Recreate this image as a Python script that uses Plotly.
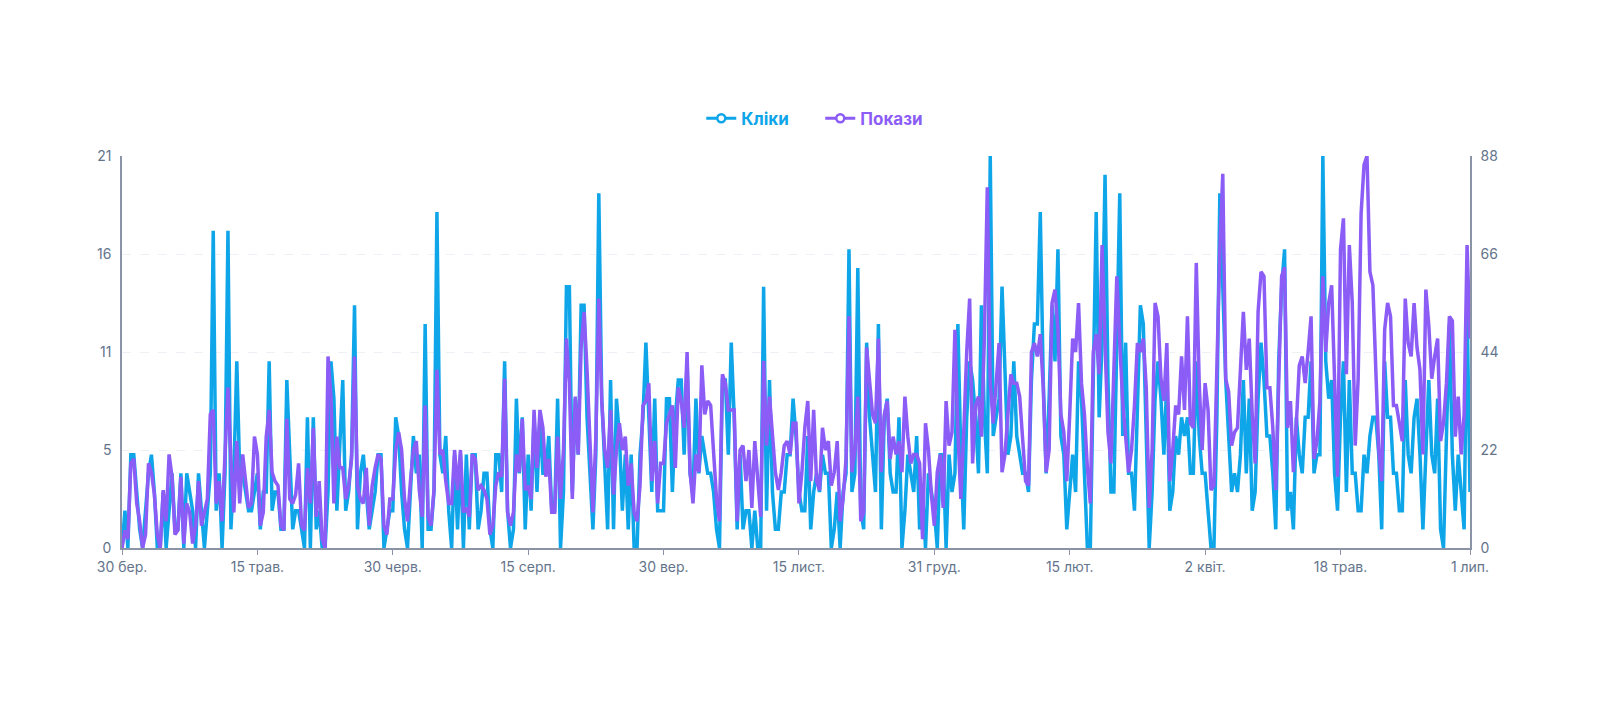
import pandas as pd
import plotly.graph_objects as go

start_date = "2024-03-30"
end_date = "2025-07-01"

clicks = [
    0,2,0,5,5,3,1,0,2,4, 5,3,0,0,3,0,2,4,1,1, 4,0,4,3,2,0,4,2,0,2,
    4,17,2,4,0,4,17,1,4,10, 4,4,3,2,2,3,4,1,3,3, 10,2,3,3,1,1,9,5,1,2,
    2,1,0,7,0,7,1,2,0,0, 3,10,8,2,6,9,2,3,5,13, 1,4,5,3,1,2,3,5,5,0,
    1,2,2,7,6,3,1,0,3,6, 4,5,0,12,1,1,3,18,5,4, 6,2,0,5,1,5,0,5,1,5,
    5,1,2,4,4,1,0,5,5,3, 10,2,0,1,8,4,7,1,5,2, 7,3,7,4,4,6,2,2,8,0,
    3,14,14,3,8,5,13,13,7,4, 1,5,19,8,4,1,9,1,8,6, 2,5,1,5,0,0,5,7,11,7,
    3,8,2,2,2,8,8,3,7,9, 9,5,10,4,3,8,4,6,5,4, 4,3,1,0,9,9,5,11,7,1,
    5,1,2,2,0,2,0,0,14,2, 9,3,1,1,3,3,5,5,8,6, 3,2,2,6,1,3,4,3,5,4,
    4,0,1,3,0,3,4,16,3,4, 15,2,1,11,7,5,3,12,1,7, 8,4,3,3,7,0,2,5,4,3,
    6,1,3,0,4,3,2,0,5,5, 0,5,3,4,12,5,1,7,10,9, 7,4,13,7,4,21,6,7,8,14,
    9,5,6,10,6,5,4,4,3,9, 12,12,18,9,4,8,13,10,16,6, 5,1,3,5,3,10,8,4,0,0,
    10,18,7,11,20,9,3,3,11,19, 6,11,4,4,2,8,13,12,6,0, 3,8,10,8,5,9,2,3,6,5,
    7,6,7,4,4,10,6,4,4,2, 0,0,7,19,14,9,6,3,4,3, 5,9,4,8,2,3,8,11,9,6,
    6,4,1,10,14,16,2,3,1,7, 5,4,7,7,10,4,5,5,21,10, 8,9,4,2,7,10,3,9,4,4,
    2,2,5,4,6,7,7,5,1,10, 7,7,4,4,2,2,9,5,4,7, 8,5,1,5,9,5,4,8,1,0,
    6,12,5,2,5,3,1,13,3,
]

impressions = [
    0,4,2,19,20,10,6,0,3,19, 17,12,3,0,13,6,21,16,3,4, 16,1,10,8,1,5,15,5,8,11,
    30,31,10,15,6,20,36,20,8,24, 10,21,14,9,10,25,21,5,8,25, 31,17,15,14,5,4,29,11,10,12,
    19,5,4,18,10,27,7,15,2,0, 43,34,10,25,18,18,11,14,20,43, 14,11,10,18,5,14,18,21,20,5,
    3,11,11,22,26,22,11,6,15,22, 24,13,7,32,7,5,13,40,21,22, 15,10,10,22,13,22,8,9,7,21,
    20,13,14,13,11,3,5,14,17,16, 38,8,5,8,21,17,29,13,14,11, 31,18,31,27,16,20,8,8,25,11,
    22,47,37,11,34,21,45,53,40,22, 8,25,56,33,22,18,31,12,22,28, 22,25,14,19,8,6,14,32,33,37,
    15,24,10,19,19,28,30,32,18,36, 33,27,44,17,10,21,17,41,30,33, 32,21,11,6,39,37,31,31,31,6,
    22,23,15,22,9,24,14,7,42,23, 34,26,17,13,17,23,24,21,28,28, 10,17,27,33,15,31,15,13,27,22,
    24,14,17,24,6,11,20,52,17,22, 34,6,8,45,37,30,28,47,17,30, 33,20,25,21,24,17,34,25,19,21,
    21,19,2,28,22,12,5,17,21,9, 33,23,26,49,26,11,26,44,56,19, 32,34,25,47,81,37,28,37,46,17,
    21,30,39,37,37,34,25,15,14,44, 46,43,48,36,17,22,55,58,49,30, 26,15,30,47,44,55,37,30,18,10,
    44,48,39,68,46,26,19,41,61,46, 33,25,17,22,32,46,44,47,36,9, 22,55,52,38,33,46,15,22,32,30,
    43,31,52,28,27,64,37,22,37,31, 13,14,44,67,84,38,35,23,26,27, 40,53,40,47,30,19,53,62,61,36,
    36,27,13,40,61,63,27,33,17,28, 41,43,37,44,52,20,24,33,61,44, 55,59,36,16,67,74,39,68,55,23,
    38,75,86,88,62,59,40,22,15,49, 55,52,32,32,28,24,56,46,43,55, 45,40,21,58,50,38,43,47,24,28,
    37,52,51,25,34,21,30,68,47,
]

tick_dates = ["2024-03-30", "2024-05-15", "2024-06-30", "2024-08-15", "2024-09-30",
              "2024-11-15", "2024-12-31", "2025-02-15", "2025-04-02", "2025-05-18", "2025-07-01"]
tick_labels = ["30 бер.", "15 трав.", "30 черв.", "15 серп.", "30 вер.", "15 лист.",
               "31 груд.", "15 лют.", "2 квіт.", "18 трав.", "1 лип."]

left_ticks = [0, 5.25, 10.5, 15.75, 21]
left_labels = ["0", "5", "11", "16", "21"]
right_ticks = [0, 22, 44, 66, 88]

dates = pd.date_range(start_date, periods=len(clicks), freq="D")

BLUE = "#0ea5e9"
PURPLE = "#8b5cf6"
AXIS = "#8a94a6"
TICK = "#64748b"
GRID = "#edf0f4"

fig = go.Figure()
fig.add_trace(go.Scatter(x=dates, y=clicks, mode="lines", line=dict(color=BLUE, width=3.5),
                         showlegend=False, yaxis="y"))
fig.add_trace(go.Scatter(x=dates, y=impressions, mode="lines", line=dict(color=PURPLE, width=3.5),
                         showlegend=False, yaxis="y2"))
# legend entries
fig.add_trace(go.Scatter(x=[None], y=[None], mode="lines+markers",
                         name="<b><span style='color:%s'>Кліки</span></b>" % BLUE,
                         line=dict(color=BLUE, width=3),
                         marker=dict(symbol="circle", size=8, color="white", line=dict(color=BLUE, width=2.5))))
fig.add_trace(go.Scatter(x=[None], y=[None], mode="lines+markers",
                         name="<b><span style='color:%s'>Покази</span></b>" % PURPLE,
                         line=dict(color=PURPLE, width=3),
                         marker=dict(symbol="circle", size=8, color="white", line=dict(color=PURPLE, width=2.5))))

fig.update_layout(
    width=1600, height=720,
    paper_bgcolor="white", plot_bgcolor="white",
    margin=dict(l=122, r=130, t=156, b=172),
    font=dict(family="Inter, Roboto, sans-serif", size=14, color=TICK),
    showlegend=True,
    legend=dict(orientation="h", x=0.518, xanchor="center", y=1.095, yanchor="middle",
                font=dict(size=17), itemwidth=30, entrywidth=74, bgcolor="rgba(0,0,0,0)"),
    xaxis=dict(type="date", range=[start_date, end_date], tickvals=tick_dates, ticktext=tick_labels,
               showgrid=False, showline=True, linecolor=AXIS, linewidth=1.5,
               ticks="outside", ticklen=5, tickcolor=AXIS, tickfont=dict(size=14, color=TICK),
               zeroline=False),
    yaxis=dict(range=[0, 21], tickvals=left_ticks, ticktext=left_labels,
               showgrid=True, gridcolor=GRID, griddash="dash", gridwidth=1.2,
               showline=True, linecolor=AXIS, linewidth=1.5, zeroline=False,
               tickfont=dict(size=14, color=TICK), ticks="", ticklabelstandoff=6),
    yaxis2=dict(range=[0, 88], tickvals=right_ticks, overlaying="y", side="right",
                showgrid=False, showline=True, linecolor=AXIS, linewidth=1.5, zeroline=False,
                tickfont=dict(size=14, color=TICK), ticks="", ticklabelstandoff=6),
)

fig.write_html("out.html")
